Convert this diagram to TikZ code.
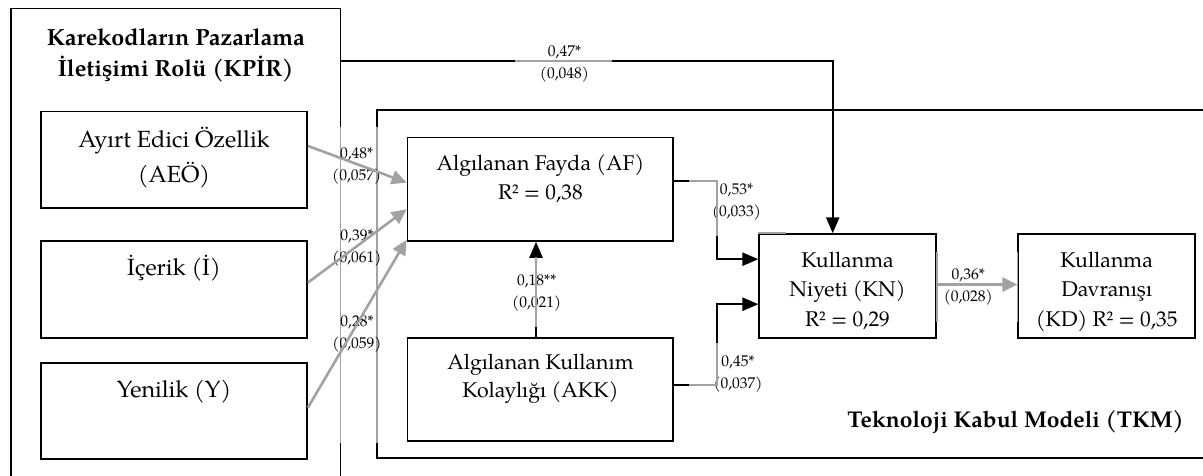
\documentclass[tikz,border=0pt]{standalone}
\usepackage{fontspec}
\setmainfont{TeX Gyre Pagella}
\usepackage{xcolor}
\usetikzlibrary{arrows.meta, calc}

\definecolor{gricizgi}{RGB}{162,162,162}

\begin{document}
\begin{tikzpicture}[x=1pt, y=-1pt, >={Triangle[length=16pt,width=13pt]},
    kutu/.style={draw, line width=1.8pt, inner sep=0pt, align=center, anchor=north, font=\fontsize{21.3}{29.2}\selectfont},
    sol/.style={font=\fontsize{23.4}{35}\selectfont},
    orta/.style={font=\fontsize{21.3}{28.2}\selectfont},
    baslik/.style={inner sep=0pt, align=center, font=\fontsize{23.4}{31}\selectfont\bfseries},
    etiket/.style={inner sep=0pt, align=center, anchor=north, text height=33pt, font=\fontsize{15.5}{22}\selectfont},
    grup/.style={line width=1.8pt},
    bag/.style={line width=2.2pt},
    gri/.style={draw=gricizgi, line width=1.9pt},
    gribag/.style={draw=gricizgi, line width=2.6pt, -{Triangle[length=15pt,width=14pt]}}]
    \useasboundingbox (0,0) rectangle (1203,476);

    % gruplar
    \draw[grup] (11,490) -- (11,8.5) -- (340.5,8.5) -- (340.5,490);
    \draw[grup] (1215,110) -- (377.3,110) -- (377.3,458.3) -- (1215,458.3);
    \draw[gri] (340.5,126.7) -- (340.5,442.7);
    \draw[gri] (377.3,126.7) -- (377.3,442.7);
    \node[baslik, anchor=north, text height=67.5pt] (kpir-baslik) at (175.8,8.5) {Karekodların Pazarlama\\İletişimi Rolü (KPİR)};
    \node[baslik, font=\fontsize{22.8}{28}\selectfont\bfseries, anchor=base east] (tkm-baslik) at (1184,427) {Teknoloji Kabul Modeli (TKM)};

    % kutular
    \node[kutu, sol, minimum width=266pt, text height=71pt, text depth=25.3pt] (aeo) at (174,110.7) {Ayırt Edici Özellik\\(AEÖ)};
    \node[kutu, sol, minimum width=266pt, text height=35pt, text depth=61.7pt] (ice) at (174,240) {İçerik (İ)};
    \node[kutu, sol, minimum width=266pt, text height=35pt, text depth=61.6pt] (yen) at (174,361.7) {Yenilik (Y)};
    \node[kutu, orta, minimum width=265.8pt, text height=61.5pt, text depth=41.8pt] (af) at (540.4,136.7) {Algılanan Fayda (AF)\\R² = 0,38};
    \node[kutu, orta, minimum width=265.8pt, text height=60pt, text depth=43.3pt] (akk) at (540.4,336.7) {Algılanan Kullanım\\Kolaylığı (AKK)};
    \node[kutu, minimum width=176.4pt, text height=91.8pt, text depth=11.6pt] (kn) at (847.5,233.3) {Kullanma\\Niyeti (KN)\\R² = 0,29};
    \node[kutu, minimum width=176.7pt, text height=91.8pt, text depth=11.6pt] (kd) at (1106.7,233.3) {Kullanma\\Davranışı\\(KD) R² = 0,35};
    \draw[gri] (kn.north west) -- ++(27.4,0);
    \draw[gri] ([yshift=-18.4pt]kn.north east) -- ([yshift=16.7pt]kn.south east);
    \draw[gri] ([yshift=-18.4pt]kd.north west) -- ([yshift=16.7pt]kd.south west);

    % yollar
    \coordinate (kpir-cikis) at (340.5,61);
    \draw[bag, ->] (kpir-cikis) -| ([xshift=-14.8pt]kn.north);
    \draw[gri, line width=2.2pt] (515,61) -- (612,61);
    \node[etiket] (e-kpir) at (564.5,45.7) {0,47*\\(0,048)};

    \node[etiket] (e-aeo) at (356.7,147) {0,48*\\(0,057)};
    \node[etiket] (e-ice) at (357,229) {0,39*\\(0,061)};
    \node[etiket] (e-yen) at (357,315.7) {0,28*\\(0,059)};
    \draw[gribag] ([yshift=13.85pt]aeo.east) -- ([yshift=6.65pt]af.west);
    \draw[gribag] ([yshift=6.65pt]ice.east) -- ([yshift=-20pt]af.west);
    \draw[gribag] ([yshift=3.3pt]yen.east) -- ([yshift=2pt]af.south west);

    \node[etiket] (e-akk) at (536.7,274) {0,18**\\(0,021)};
    \draw[bag, ->] ([xshift=-4.4pt]akk.north) -- ([xshift=-4.4pt]af.south);
    \draw[gri, line width=2.2pt] ([xshift=-4.4pt, yshift=10pt]akk.north) -- ++(0,-69.7);

    \node[etiket] (e-af) at (736.5,183.3) {0,53*\\(0,033)};
    \draw[bag, ->] ([yshift=8.35pt]af.east) -- ++(42.7,0) |- ([yshift=26.7pt]kn.west);
    \draw[gri, line width=2.2pt] ([xshift=14.4pt, yshift=8.35pt]af.east) -- ++(28.3,0) -- ++(0,55);

    \node[etiket] (e-akk2) at (738,355.7) {0,45*\\(0,037)};
    \draw[bag, ->] ([yshift=4pt]akk.east) -- ++(42.7,0) |- ([yshift=-18.3pt]kn.west);
    \draw[gri, line width=2.2pt] ([xshift=15pt, yshift=4pt]akk.east) -- ++(27.7,0) -- ++(0,-42.6);

    \node[etiket] (e-kn) at (968.3,268.3) {0,36*\\(0,028)};
    \draw[gribag] ([yshift=1.3pt]kn.east) -- ([yshift=1.3pt]kd.west);
\end{tikzpicture}
\end{document}
